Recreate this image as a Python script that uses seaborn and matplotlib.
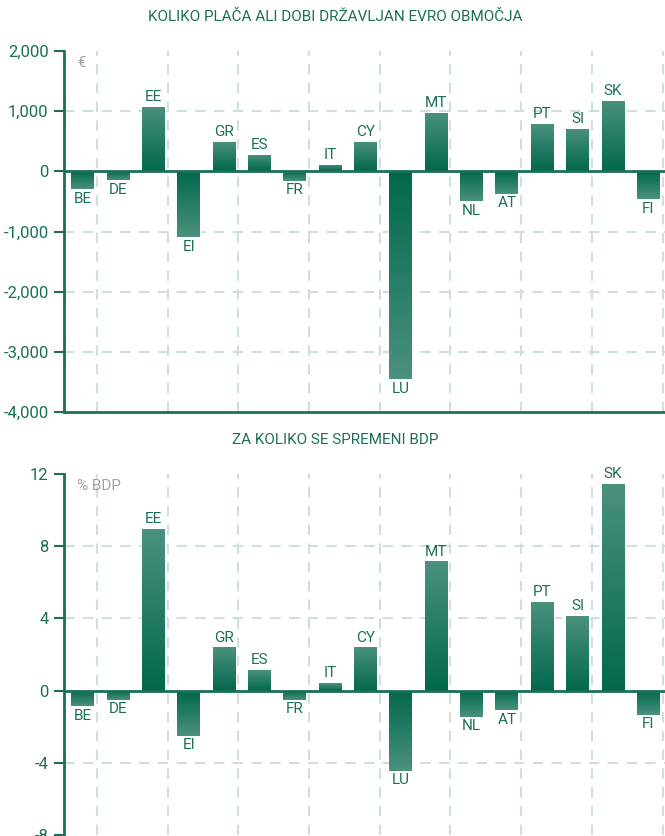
# Euro area: net payment per citizen and change of GDP, two stacked bar charts
import matplotlib
matplotlib.use('Agg')
import matplotlib.pyplot as plt
from matplotlib import font_manager
from matplotlib.colors import LinearSegmentedColormap
import numpy as np
import pandas as pd
import seaborn as sns

# data
countries = ['BE', 'DE', 'EE', 'EI', 'GR', 'ES', 'FR', 'IT', 'CY',
             'LU', 'MT', 'NL', 'AT', 'PT', 'SI', 'SK', 'FI']
eur_per_citizen = [-295, -140, 1070, -1095, 483, 272, -155, 105, 483,
                   -3450, 967, -500, -372, 783, 700, 1172, -462]
gdp_change = [-0.88, -0.5, 8.95, -2.49, 2.4, 1.13, -0.5, 0.43, 2.4,
              -4.43, 7.16, -1.44, -1.1, 4.9, 4.12, 11.44, -1.33]

top_title = 'KOLIKO PLAČA ALI DOBI DRŽAVLJAN EVRO OBMOČJA'
bottom_title = 'ZA KOLIKO SE SPREMENI BDP'

sns.set_style('white')

# pick a narrow font if there is one
installed = {f.name for f in font_manager.fontManager.ttflist}
family = [f for f in ['Liberation Sans Narrow', 'Roboto', 'DejaVu Sans'] if f in installed]
plt.rcParams['font.family'] = family

GREEN = '#1b6f58'
GRID = '#cde0d9'
GREY = '#a0a0a0'
bar_cmap = LinearSegmentedColormap.from_list('bar', ['#02684c', '#4a917e'])


def gradient_bars(ax):
    # dark at the zero line, lighter towards the tip of each bar
    grad = np.linspace(0, 1, 100).reshape(-1, 1)
    for patch in list(ax.patches):
        x0, w, h = patch.get_x(), patch.get_width(), patch.get_height()
        if h >= 0:
            img = grad
            extent = [x0, x0 + w, 0, h]
        else:
            img = grad[::-1]
            extent = [x0, x0 + w, h, 0]
        im = ax.imshow(img, extent=extent, origin='lower', aspect='auto',
                       cmap=bar_cmap, vmin=0, vmax=1, zorder=3)
        im.set_clip_path(patch)


def draw_panel(ax, values, ticks, tick_fmt, unit):
    df = pd.DataFrame({'Country': countries, 'Value': values})
    sns.barplot(df, x='Country', y='Value', order=countries, color='#02684c',
                width=0.65, errorbar=None, ax=ax, zorder=3)
    gradient_bars(ax)

    ax.set_xlim(-0.53, 16.47)
    ax.set_ylim(ticks[0], ticks[-1])
    ax.set_yticks(ticks)
    ax.set_yticklabels([tick_fmt(t) for t in ticks])
    ax.set_xticks([])
    ax.set_xlabel('')
    ax.set_ylabel('')

    # dashed grid
    for t in ticks[1:-1]:
        if t != 0:
            ax.axhline(t, color=GRID, lw=1.5, ls=(0, (5, 4)), zorder=1)
    for xg in np.arange(0.4, 17, 2):
        ax.axvline(xg, color=GRID, lw=1.5, ls=(0, (5, 4)), zorder=1)
    ax.axhline(0, color=GREEN, lw=2, zorder=4)

    for side in ['top', 'right']:
        ax.spines[side].set_visible(False)
    for side in ['left', 'bottom']:
        ax.spines[side].set_color(GREEN)
        ax.spines[side].set_linewidth(2)
    ax.tick_params(axis='y', direction='out', length=7, width=1.5,
                   color=GREEN, labelcolor=GREEN, labelsize=12, pad=4, left=True)

    # country names above or below bars
    for i, (name, v) in enumerate(zip(countries, values)):
        if v >= 0:
            ax.annotate(name, (i, v), xytext=(0, 2), textcoords='offset points',
                        ha='center', va='bottom', color=GREEN, fontsize=11, zorder=5)
        else:
            ax.annotate(name, (i, v), xytext=(0, -2), textcoords='offset points',
                        ha='center', va='top', color=GREEN, fontsize=11, zorder=5)

    ax.text(0.022, 0.985, unit, transform=ax.transAxes, ha='left', va='top',
            color=GREY, fontsize=11)


fig = plt.figure(figsize=(6.65, 8.36), dpi=100)
ax1 = fig.add_axes([64 / 665, 1 - 412 / 836, 601 / 665, 361 / 836])
ax2 = fig.add_axes([64 / 665, 1 - 835 / 836, 601 / 665, 361 / 836])

draw_panel(ax1, eur_per_citizen, [-4000, -3000, -2000, -1000, 0, 1000, 2000],
           lambda t: f'{t:,}', '€')
draw_panel(ax2, gdp_change, [-8, -4, 0, 4, 8, 12], lambda t: f'{t}', '% BDP')
ax2.spines['bottom'].set_visible(False)

fig.text(335 / 665, 1 - 17 / 836, top_title, ha='center', va='center',
         color=GREEN, fontsize=11)
fig.text(335 / 665, 1 - 440 / 836, bottom_title, ha='center', va='center',
         color=GREEN, fontsize=11)

fig.savefig('out.png', dpi=100)
